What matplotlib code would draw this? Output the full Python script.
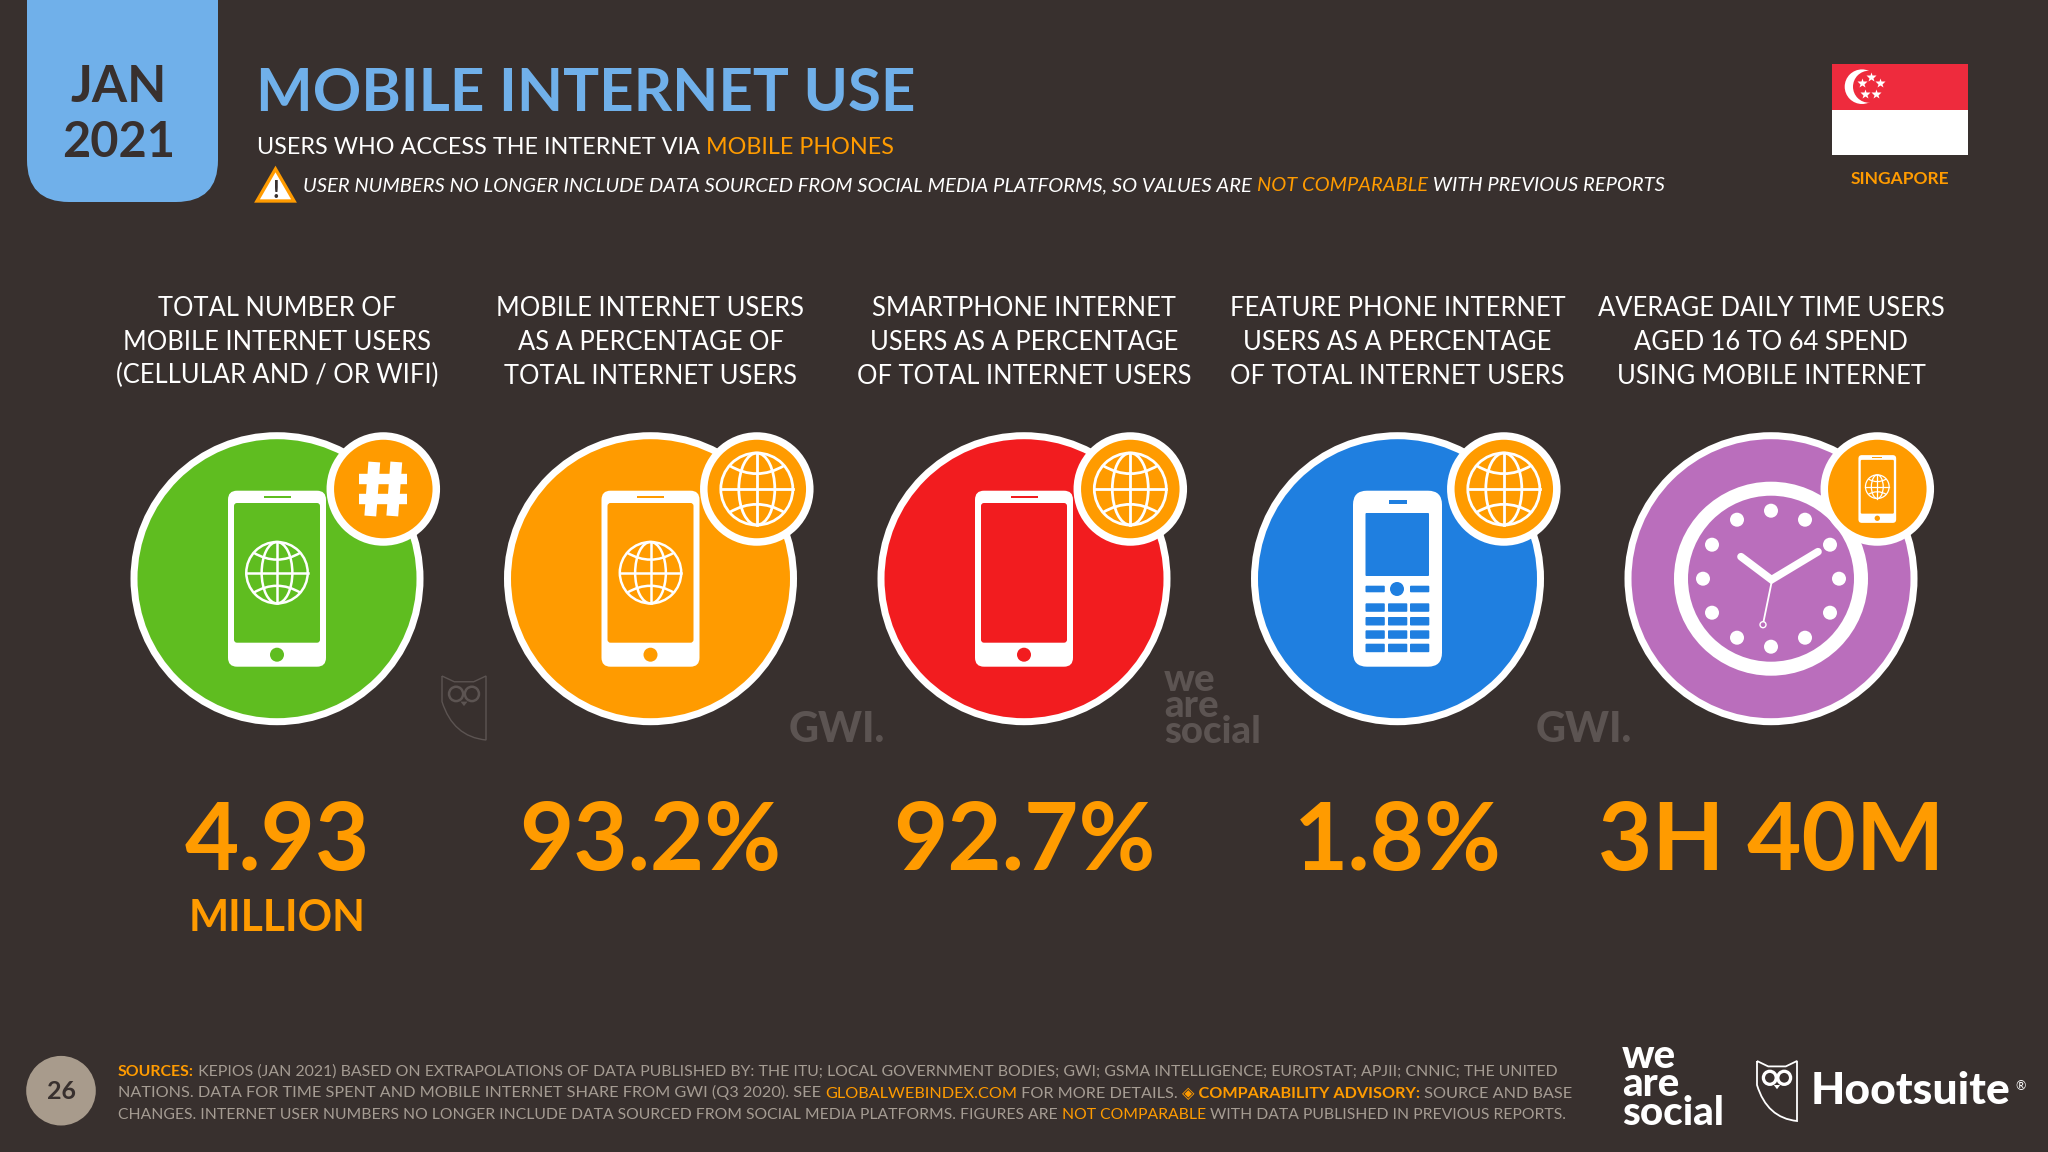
import matplotlib
matplotlib.use('Agg')
import matplotlib.pyplot as plt
from matplotlib.patches import Circle, Ellipse, FancyBboxPatch, PathPatch, Polygon, Rectangle
from matplotlib.path import Path

BG = '#38302E'
BLUE = '#70B0EA'
ORANGE = '#FF9B00'
GREY = '#A59C93'
FAINT = '#5C5452'
WHITE = '#FFFFFF'
FONT = ['Lato', 'DejaVu Sans']

#
# Chart content
#
headings = [
    ['TOTAL NUMBER OF', 'MOBILE INTERNET USERS', '(CELLULAR AND / OR WIFI)'],
    ['MOBILE INTERNET USERS', 'AS A PERCENTAGE OF', 'TOTAL INTERNET USERS'],
    ['SMARTPHONE INTERNET', 'USERS AS A PERCENTAGE', 'OF TOTAL INTERNET USERS'],
    ['FEATURE PHONE INTERNET', 'USERS AS A PERCENTAGE', 'OF TOTAL INTERNET USERS'],
    ['AVERAGE DAILY TIME USERS', 'AGED 16 TO 64 SPEND', 'USING MOBILE INTERNET'],
]
values = ['4.93', '93.2%', '92.7%', '1.8%', '3H 40M']
circle_colors = ['#5FBD20', '#FF9B00', '#F21C1F', '#1F7FE0', '#BA6EBC']
footer_lines = [
    [('SOURCES:', ORANGE, 'bold'),
     (' KEPIOS (JAN 2021) BASED ON EXTRAPOLATIONS OF DATA PUBLISHED BY: THE ITU; LOCAL GOVERNMENT BODIES; GWI; GSMA INTELLIGENCE; EUROSTAT; APJII; CNNIC; THE UNITED', GREY, 'normal')],
    [('NATIONS. DATA FOR TIME SPENT AND MOBILE INTERNET SHARE FROM GWI (Q3 2020). SEE ', GREY, 'normal'),
     ('GLOBALWEBINDEX.COM', ORANGE, 'normal'),
     (' FOR MORE DETAILS. ', GREY, 'normal'),
     ('◈ COMPARABILITY ADVISORY:', ORANGE, 'bold'),
     (' SOURCE AND BASE', GREY, 'normal')],
    [('CHANGES. INTERNET USER NUMBERS NO LONGER INCLUDE DATA SOURCED FROM SOCIAL MEDIA PLATFORMS. FIGURES ARE ', GREY, 'normal'),
     ('NOT COMPARABLE', ORANGE, 'normal'),
     (' WITH DATA PUBLISHED IN PREVIOUS REPORTS.', GREY, 'normal')],
]

COLS = [277, 650.5, 1024, 1397.5, 1771]
CY = 578.7

fig = plt.figure(figsize=(20.48, 11.52), dpi=100, facecolor=BG)
ax = fig.add_axes([0, 0, 1, 1])
ax.set_xlim(0, 2048)
ax.set_ylim(1152, 0)
ax.axis('off')
renderer = fig.canvas.get_renderer()


def text_width(s, **kw):
    ''' Width in pixels, trailing spaces included. '''
    t = ax.text(0, 0, s + '|', family=FONT, **kw)
    w = t.get_window_extent(renderer).width
    t.set_text('|')
    w -= t.get_window_extent(renderer).width
    t.remove()
    return w


def runs(x, y, parts, size, style='normal'):
    ''' Writes differently coloured pieces of text one after the other. '''
    for s, color, weight in parts:
        ax.text(x, y, s, color=color, fontsize=size, fontweight=weight,
                fontstyle=style, family=FONT, ha='left', va='baseline')
        x += text_width(s, fontsize=size, fontweight=weight, fontstyle=style)


def label(x, y, s, size, color=WHITE, weight='normal', ha='center'):
    ax.text(x, y, s, color=color, fontsize=size, fontweight=weight,
            family=FONT, ha=ha, va='baseline')


def rbox(x0, y0, x1, y1, r, color, z=3):
    ax.add_patch(FancyBboxPatch((x0, y0), x1 - x0, y1 - y0,
                                boxstyle='round,pad=0,rounding_size=%s' % r,
                                fc=color, ec='none', zorder=z))


def globe(cx, cy, r, lw=2.0, z=6):
    ''' Outline globe with meridians and curved latitudes. '''
    kw = dict(fc='none', ec=WHITE, lw=lw, zorder=z)
    ax.add_patch(Circle((cx, cy), r, **kw))
    ax.add_patch(Ellipse((cx, cy), r * 1.0, r * 2, **kw))
    ax.plot([cx, cx], [cy - r, cy + r], color=WHITE, lw=lw, zorder=z)
    ax.plot([cx - r, cx + r], [cy, cy], color=WHITE, lw=lw, zorder=z)
    for sgn in (-1, 1):
        verts = [(cx - .76 * r, cy + sgn * .65 * r), (cx, cy + sgn * .2 * r),
                 (cx + .76 * r, cy + sgn * .65 * r)]
        ax.add_patch(PathPatch(Path(verts, [Path.MOVETO, Path.CURVE3, Path.CURVE3]), **kw))


def smartphone(cx, cy, s, color, with_globe=True, z=5):
    rbox(cx - 49 * s, cy - 88 * s, cx + 49 * s, cy + 88 * s, 9 * s, WHITE, z)
    rbox(cx - 43 * s, cy - 75.7 * s, cx + 43 * s, cy + 64 * s, 3 * s, color, z + .1)
    ax.add_patch(Rectangle((cx - 13.5 * s, cy - 83 * s), 27 * s, 2.5 * s, fc=color, ec='none', zorder=z + .1))
    ax.add_patch(Circle((cx, cy + 76 * s), 7 * s, fc=color, ec='none', zorder=z + .1))
    if with_globe:
        globe(cx, cy - 6 * s, 30.7 * s, lw=1.8 * max(s, .5), z=z + .2)


def feature_phone(cx, cy, color):
    rbox(cx - 44.5, cy - 88, cx + 44.5, cy + 88, 14, WHITE, 5)
    rbox(cx - 32, cy - 65.7, cx + 31.5, cy - 2.7, 1, color, 5.1)
    ax.add_patch(Rectangle((cx - 9, cy - 78.7), 18.5, 4, fc=color, ec='none', zorder=5.1))
    ax.add_patch(Circle((cx - .5, cy + 10.3), 7, fc=color, ec='none', zorder=5.1))
    for x0 in (-32, 12.5):
        rbox(cx + x0, cy + 7, cx + x0 + 19.3, cy + 13.6, 1, color, 5.1)
    for y0 in (24.6, 38.3, 51.6, 65):
        for x0 in (-32, -9.5, 12.5):
            rbox(cx + x0, cy + y0, cx + x0 + 19.3, cy + y0 + 8.5, 1, color, 5.1)


def clock(cx, cy, color):
    ax.add_patch(Circle((cx, cy), 90, fc='none', ec=WHITE, lw=14 * .72, zorder=4))
    for dx, dy in [(0, -68), (34, -59), (59, -34), (68, 0), (59, 34), (34, 59),
                   (0, 68), (-34, 59), (-59, 34), (-68, 0), (-59, -34), (-34, -59)]:
        ax.add_patch(Circle((cx + dx, cy + dy), 7, fc=WHITE, ec='none', zorder=5))
    ax.plot([cx - 30, cx + .5, cx + 47], [cy - 22, cy + 1, cy - 27], color=WHITE,
            lw=5.5, solid_capstyle='round', solid_joinstyle='miter', zorder=5)
    ax.plot([cx + .5, cx - 7.5], [cy + 4, cy + 43], color=WHITE, lw=1.3, zorder=5)
    ax.add_patch(Circle((cx - 8, cy + 46), 3, fc=color, ec=WHITE, lw=1, zorder=5))


def hash_icon(cx, cy):
    ''' The hash sign in the first badge, drawn as an icon. '''
    for dx in (-11, 11):
        ax.plot([cx + dx + 2, cx + dx - 2], [cy - 27, cy + 27], color=WHITE, lw=8.5,
                solid_capstyle='butt', zorder=8)
    for dy in (-10, 10):
        ax.plot([cx - 24, cx + 24], [cy + dy, cy + dy], color=WHITE, lw=7.5,
                solid_capstyle='butt', zorder=8)


def owl(x, y, w, h, color, lw):
    ''' Hootsuite owl outline, in a box from (x, y). '''
    verts = [(0, 0), (.28, .09), (.72, .09), (1, 0), (1, 1), (.25, .95), (0, .4), (0, 0)]
    codes = [Path.MOVETO, Path.LINETO, Path.LINETO, Path.LINETO, Path.LINETO,
             Path.CURVE3, Path.CURVE3, Path.LINETO]
    pts = [(x + a * w, y + b * h) for a, b in verts]
    ax.add_patch(PathPatch(Path(pts, codes), fc='none', ec=color, lw=lw, zorder=3))
    for a in (.32, .68):
        ax.add_patch(Ellipse((x + a * w, y + .28 * h), .32 * w, .32 * w * 1.02, fc='none',
                             ec=color, lw=lw * 1.8, zorder=3))
    ax.add_patch(Polygon([(x + .42 * w, y + .4 * h), (x + .58 * w, y + .4 * h), (x + .5 * w, y + .47 * h)],
                         fc=color, ec='none', zorder=3))


def we_are_social(x, y, size, color):
    ''' Stacked logo as one text, y is the baseline of the last line. '''
    ax.text(x, y, 'we\nare\nsocial', color=color, fontsize=size, fontweight='black',
            family=FONT, ha='left', va='baseline', linespacing=.72)


#
# Header
#
rbox(27, -60, 218, 202, 42, BLUE, 2)
label(119, 102, 'JAN', 36.5, BG, 'bold')
label(119, 157, '2021', 35, BG, 'bold')
label(256, 111, 'MOBILE INTERNET USE', 43.2, BLUE, 'bold', 'left')
runs(257, 154, [('USERS WHO ACCESS THE INTERNET VIA ', WHITE, 'normal'),
                ('MOBILE PHONES', ORANGE, 'normal')], 16.85)
ax.add_patch(Polygon([(275.5, 169), (294, 201), (257, 201)], fc=WHITE, ec=ORANGE, lw=2.4, zorder=3))
ax.text(275.5, 198, '!', color=BG, fontsize=17, fontweight='bold', family=FONT, ha='center', va='baseline', zorder=4)
runs(303, 191, [('USER NUMBERS NO LONGER INCLUDE DATA SOURCED FROM SOCIAL MEDIA PLATFORMS, SO VALUES ARE ', WHITE, 'normal'),
                ('NOT COMPARABLE', ORANGE, 'normal'),
                (' WITH PREVIOUS REPORTS', WHITE, 'normal')], 14.47, 'italic')

# flag
ax.add_patch(Rectangle((1832, 64), 136, 45.5, fc='#EE2B3D', ec='none'))
ax.add_patch(Rectangle((1832, 109.5), 136, 45.2, fc=WHITE, ec='none'))
ax.add_patch(Circle((1862, 86.7), 17.3, fc=WHITE, ec='none', zorder=3))
ax.add_patch(Circle((1869, 86.7), 16, fc='#EE2B3D', ec='none', zorder=3.1))
ax.plot([1870.7, 1861.7, 1879.7, 1865, 1876.3], [76.7, 83.3, 83.3, 94, 94], ls='none',
        marker='*', ms=7, mfc=WHITE, mec='none', zorder=4)
label(1900, 184, 'SINGAPORE', 12.5, ORANGE, 'bold')

#
# Columns
#
for cx, head, value, color in zip(COLS, headings, values, circle_colors):
    for line, y in zip(head, (315.6, 349.6, 383.5)):
        label(cx, y, line, 18.4, WHITE, 'normal')
    ax.add_patch(Circle((cx, CY), 143, fc=color, ec=WHITE, lw=7 * .72, zorder=2))
    label(cx, 870, value, 67.5, ORANGE, 'bold')

smartphone(COLS[0], CY, 1, circle_colors[0])
smartphone(COLS[1], CY, 1, circle_colors[1])
smartphone(COLS[2], CY, 1, circle_colors[2], with_globe=False)
feature_phone(COLS[3], CY, circle_colors[3])
clock(COLS[4], CY, circle_colors[4])
label(COLS[0], 931, 'MILLION', 30.7, ORANGE, 'bold')

# badges on the top right of each circle
for i, cx in enumerate(COLS):
    bx = cx + 106.3
    ax.add_patch(Circle((bx, 489), 53, fc=ORANGE, ec=WHITE, lw=7.5 * .72, zorder=7))
    if i == 0:
        hash_icon(bx, 489)
    elif i == 4:
        smartphone(bx, 489, .385, ORANGE, z=8)
    else:
        globe(bx, 489, 36, lw=2.0, z=8)

# faint source marks next to the circles
owl(442, 676, 44, 64, FAINT, 1.0)
label(789, 742, 'GWI.', 30, FAINT, 'black', 'left')
we_are_social(1164, 743, 27.5, FAINT)
label(1536, 742, 'GWI.', 30, FAINT, 'black', 'left')

#
# Footer
#
ax.add_patch(Circle((61, 1090.7), 34.8, fc='#A89B8C', ec='none'))
ax.text(61, 1099, '26', color=BG, fontsize=18, fontweight='bold', family=FONT, ha='center', va='baseline')
for parts, y, size in zip(footer_lines, (1076, 1097.5, 1119), (11.45, 11.68, 11.37)):
    runs(118, y, parts, size)
we_are_social(1622, 1125, 29, WHITE)
owl(1757, 1061, 40, 60, WHITE, 1.3)
label(1811, 1104, 'Hootsuite', 32, WHITE, 'black', 'left')
label(2015, 1090, '®', 9, WHITE, 'normal', 'left')

fig.savefig('out.png', dpi=100, facecolor=BG)
